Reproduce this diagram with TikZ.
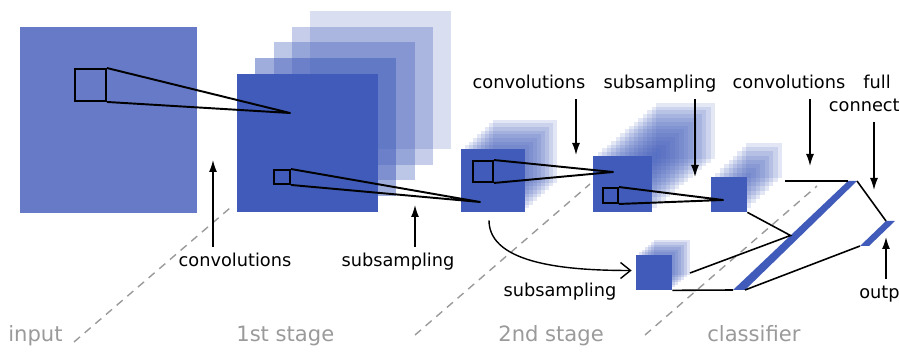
\documentclass[tikz,border=0pt]{standalone}
\usepackage{fontspec}
\setmainfont{DejaVu Sans}
\usepackage{tikz}
\usetikzlibrary{arrows.meta, positioning, calc, fit}
\definecolor{mapblue}{HTML}{405BB9}
\definecolor{inblue}{HTML}{677AC7}
\definecolor{stagegray}{HTML}{9A9A9A}

\begin{document}
\begin{tikzpicture}[
    x=0.02cm, y=-0.02cm,
    fmap/.style={fill=mapblue, draw=none, inner sep=0pt},
    inmap/.style={fill=inblue, draw=none, inner sep=0pt},
    ghost/.style={fill=mapblue, draw=none, fill opacity=#1},
    patch/.style={draw=black, line width=1.1pt, inner sep=0pt},
    ray/.style={line width=1.1pt, line join=round},
    link/.style={line width=0.9pt},
    lbl/.style={font=\fontsize{10.1}{12}\selectfont, inner sep=3.5pt,
                text height=7.6pt, text depth=2.2pt, anchor=base},
    stage/.style={font=\fontsize{12}{14}\selectfont, text=stagegray,
                  inner sep=0pt, anchor=base west},
    arrow/.style={-{Latex[length=2.4mm,width=1.6mm]}, line width=0.8pt},
    curved/.style={-{Straight Barb[length=2mm,width=3.2mm]}, line width=0.8pt},
    sep/.style={stagegray, line width=0.8pt, dash pattern=on 4.5pt off 3.5pt}
  ]
    \useasboundingbox (0,0) rectangle (900,357);

    % Stage separators
    \draw[sep] (74,342) -- (230,208);
    \draw[sep] (415,335) -- (590,184);
    \draw[sep] (645,335) -- (817,186);

    % Input
    \node[inmap, fit={(20,27) (197,213)}] (in) {};

    % 1st stage (convolution maps)
    \foreach \k/\op in {4/0.2,3/0.3,2/0.35,1/0.5}
      \fill[ghost=\op, shift={(\k*18.25,-\k*15.75)}] (237,74) rectangle +(141,138);
    \node[fmap, fit={(237,74) (378,212)}] (s1) {};

    % 2nd stage (subsampled maps)
    \foreach \k in {8,...,1}
      \fill[ghost=0.15, shift={(\k*4,-\k*3.65)}] (461,149) rectangle +(64,63);
    \node[fmap, fit={(461,149) (525,212)}] (s2) {};

    % 2nd stage (convolution maps)
    \foreach \k in {14,...,1}
      \fill[ghost=0.14, shift={(\k*4.5,-\k*3.8)}] (593,156) rectangle +(59,56);
    \node[fmap, fit={(593,156) (652,212)}] (s3) {};

    % Classifier maps
    \foreach \k in {8,...,1}
      \fill[ghost=0.15, shift={(\k*4.4,-\k*4.25)}] (711,177) rectangle +(36,35);
    \node[fmap, fit={(711,177) (747,212)}] (c4) {};

    \foreach \k in {6,...,1}
      \fill[ghost=0.17, shift={(\k*3,-\k*2.5)}] (636,255) rectangle +(36,35);
    \node[fmap, fit={(636,255) (672,290)}] (sb) {};

    % Receptive fields
    \node[patch, fit={(75,69) (106,101)}] (p0) {};
    \node[patch, fit={(274,170) (290,184)}] (p1) {};
    \node[patch, fit={(473,161) (493,182)}] (p2) {};
    \node[patch, fit={(603,188) (618,203)}] (p3) {};

    \coordinate (a0) at (290,113);
    \coordinate (a1) at (480,202);
    \coordinate (a2) at (613,172);
    \coordinate (a3) at (723,200);

    \draw[ray] (p0.north east) -- (a0) -- (p0.south east);
    \draw[ray] (p1.north east) -- (a1) -- (p1.south east);
    \draw[ray] (p2.north east) -- (a2) -- (p2.south east);
    \draw[ray] (p3.north east) -- (a3) -- (p3.south east);

    % Fully connected layers
    \coordinate (fb1) at (733,290);
    \coordinate (fb2) at (745,290);
    \coordinate (fb3) at (857,181);
    \coordinate (fb4) at (848,181);
    \fill[mapblue] (fb1) -- (fb2) -- (fb3) -- (fb4) -- cycle;

    \coordinate (ob1) at (860,246);
    \coordinate (ob2) at (869,246);
    \coordinate (ob3) at (895,221);
    \coordinate (ob4) at (886,221);
    \fill[mapblue] (ob1) -- (ob2) -- (ob3) -- (ob4) -- cycle;

    \coordinate (c4t) at (785,181);
    \coordinate (sbt) at (690,273);
    \coordinate (fbm) at ($(fb1)!0.5!(fb4)$);

    \draw[link] (c4t) -- (fb4);
    \draw[link] (c4.south east) -- (fbm) -- (sbt);
    \draw[link] (sb.south east) -- (fb1);
    \draw[link] (fb3) -- (ob4);
    \draw[link] (fb2) -- (ob1);

    % Second subsampling branch
    \draw[curved] ($(s2.south)+(-4,8)$) .. controls +(0,45) and +(-60,0)
      .. ($(sb.west)+(-4,-2)$);

    % Operation labels
    \node[lbl] (lc1) at (235,267) {convolutions};
    \node[lbl] (ls1) at (398,267) {subsampling};
    \node[lbl] (lc2) at (529,89) {convolutions};
    \node[lbl] (ls2) at (660,89) {subsampling};
    \node[lbl] (lc3) at (789,89) {convolutions};
    \node[lbl] (lf1) at (877,89) {full};
    \node[lbl, anchor=base east, inner xsep=0pt] (lf2) at (900,112) {connect};
    \node[lbl, anchor=base east, inner xsep=0pt] (lo) at (900,299) {outp};
    \node[lbl] (lsb) at (560,297) {subsampling};

    \coordinate (t1) at (213,160);
    \coordinate (t2) at (415,205);
    \coordinate (t3) at (576,155);
    \coordinate (t4) at (695,177);
    \coordinate (t5) at (810,166);
    \coordinate (t6) at (874,190);
    \coordinate (t7) at (886,237);

    \draw[arrow] (lc1.north -| t1) -- (t1);
    \draw[arrow] (ls1.north -| t2) -- (t2);
    \draw[arrow] (lc2.south -| t3) -- (t3);
    \draw[arrow] (ls2.south -| t4) -- (t4);
    \draw[arrow] (lc3.south -| t5) -- (t5);
    \draw[arrow] (lf2.south -| t6) -- (t6);
    \draw[arrow] (lo.north -| t7) -- (t7);

    % Stage names
    \node[stage] (g0) at (8,342) {input};
    \node[stage] (g1) at (236,342) {1st stage};
    \node[stage] (g2) at (498,342) {2nd stage};
    \node[stage] (g3) at (707,342) {classifier};
  \end{tikzpicture}
\end{document}
